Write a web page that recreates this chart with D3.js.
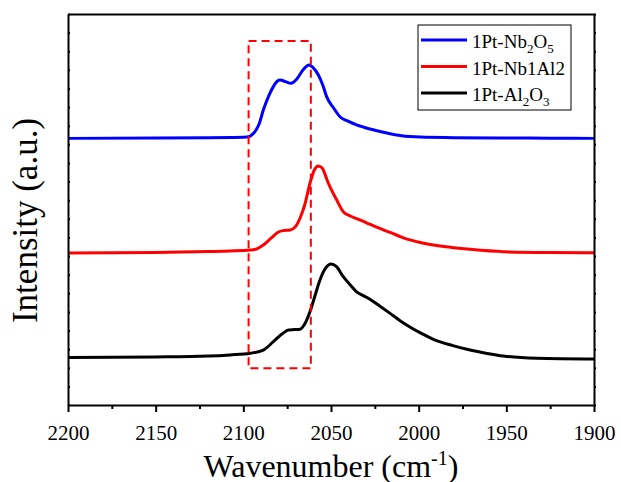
<!DOCTYPE html>
<html lang="en">
<head>
  <meta charset="UTF-8" />
  <title>IR spectra</title>
  <script src="https://d3js.org/d3.v7.min.js"></script>
  <style>
    body { margin: 0; padding: 0; background: #fff; }
    svg text { font-family: 'Liberation Serif', 'Times New Roman', serif; fill: #000; }
  </style>
</head>
<body>
  <div id="chart"></div>
  <script>
    // x axis ticks (wavenumber, cm-1)
    const majorTicks = [2200, 2150, 2100, 2050, 2000, 1950, 1900];
    const minorTicks = [2175, 2125, 2075, 2025, 1975, 1925];

    // 1Pt-Nb2O5 (blue)
    const nbWave = [2200, 2150, 2120, 2107, 2100, 2098, 2094, 2091, 2088.6, 2085.5, 2082.9, 2080.5, 2079, 2076, 2072.8, 2069.5, 2066, 2063.5, 2062.5, 2060.5, 2057.2, 2054.5, 2052.5, 2048.5, 2044.9, 2040, 2035.4, 2027.8, 2022, 2016.3, 2010.6, 2005, 1999, 1980, 1950, 1925, 1900];
    const nbInt  = [1.432, 1.434, 1.436, 1.437, 1.438, 1.439, 1.461, 1.509, 1.584, 1.660, 1.710, 1.740, 1.745, 1.737, 1.728, 1.751, 1.799, 1.823, 1.826, 1.815, 1.772, 1.713, 1.656, 1.595, 1.548, 1.523, 1.504, 1.482, 1.469, 1.457, 1.448, 1.442, 1.439, 1.436, 1.434, 1.433, 1.432];

    // 1Pt-Nb1Al2 (red)
    const mixWave = [2200, 2150, 2120, 2107.6, 2096, 2092, 2088.6, 2084, 2080, 2077, 2073.4, 2070, 2067.7, 2065, 2062, 2059.5, 2057.2, 2055, 2053.5, 2051.5, 2047, 2043, 2039, 2035.4, 2030, 2024, 2016.3, 2008.7, 1999, 1989.7, 1980, 1970.7, 1951.7, 1925, 1900];
    const mixInt  = [0.816, 0.819, 0.824, 0.827, 0.832, 0.840, 0.859, 0.897, 0.929, 0.937, 0.940, 0.961, 1.003, 1.074, 1.191, 1.262, 1.284, 1.273, 1.241, 1.191, 1.106, 1.038, 1.015, 1.001, 0.980, 0.955, 0.927, 0.898, 0.873, 0.857, 0.845, 0.836, 0.823, 0.819, 0.818];

    // 1Pt-Al2O3 (black)
    const alWave = [2200, 2150, 2120, 2107.6, 2096, 2088.6, 2082.9, 2078, 2074.3, 2071, 2067.7, 2065, 2062, 2059, 2056.3, 2053, 2050, 2047, 2043, 2039, 2035.4, 2031, 2027.8, 2022, 2016.3, 2010.6, 2005, 1999, 1991.6, 1981, 1970.7, 1961, 1951.7, 1932.7, 1900];
    const alInt  = [0.255, 0.258, 0.263, 0.269, 0.278, 0.295, 0.340, 0.381, 0.403, 0.405, 0.407, 0.435, 0.501, 0.591, 0.671, 0.736, 0.757, 0.744, 0.689, 0.644, 0.608, 0.585, 0.568, 0.530, 0.492, 0.453, 0.419, 0.387, 0.353, 0.320, 0.295, 0.277, 0.263, 0.251, 0.247];

    // highlighted region (dashed box)
    const boxWave = [2097, 2061.5];
    const boxInt = [0.197, 1.955];

    const series = [
      { name: ["1Pt-Nb", "2", "O", "5"], color: "#0000ff", wave: nbWave, val: nbInt },
      { name: ["1Pt-Nb1Al2"], color: "#ff0000", wave: mixWave, val: mixInt },
      { name: ["1Pt-Al", "2", "O", "3"], color: "#000000", wave: alWave, val: alInt }
    ];

    const width = 621, height = 482;
    const margin = { top: 14, right: 27, bottom: 77, left: 68 };
    const serif = "'Liberation Serif', 'Times New Roman', serif";

    const svg = d3.select("#chart").append("svg")
      .attr("width", width)
      .attr("height", height);

    const x = d3.scaleLinear().domain([2200, 1900]).range([margin.left, width - margin.right]);
    const y = d3.scaleLinear().domain([0, 2.1]).range([height - margin.bottom, margin.top]);
    const yTicks = d3.range(0, 22).map(i => i / 10);

    // curves
    const line = d3.line()
      .x(d => x(d[0]))
      .y(d => y(d[1]))
      .curve(d3.curveMonotoneX);

    series.forEach(s => {
      svg.append("path")
        .datum(s.wave.map((w, i) => [w, s.val[i]]))
        .attr("fill", "none")
        .attr("stroke", s.color)
        .attr("stroke-width", 3)
        .attr("stroke-linejoin", "round")
        .attr("d", line);
    });

    // dashed box
    svg.append("rect")
      .attr("x", x(boxWave[0]))
      .attr("y", y(boxInt[1]))
      .attr("width", x(boxWave[1]) - x(boxWave[0]))
      .attr("height", y(boxInt[0]) - y(boxInt[1]))
      .attr("fill", "none")
      .attr("stroke", "#ff0000")
      .attr("stroke-width", 2)
      .attr("stroke-dasharray", "8,5");

    // axes
    const bottom = svg.append("g")
      .attr("transform", `translate(0,${y(0)})`)
      .call(d3.axisBottom(x).tickValues(majorTicks).tickSize(7).tickSizeOuter(0)
        .tickPadding(13).tickFormat(d3.format("d")));
    bottom.attr("font-family", serif);
    bottom.selectAll("text").style("font-size", "21px").style("font-family", serif);

    svg.append("g")
      .attr("transform", `translate(0,${y(0)})`)
      .call(d3.axisBottom(x).tickValues(minorTicks).tickSize(4).tickSizeOuter(0).tickFormat(""))
      .select(".domain").remove();

    svg.append("g")
      .attr("transform", `translate(0,${margin.top})`)
      .call(d3.axisTop(x).tickValues([]).tickSizeOuter(0));

    svg.append("g")
      .attr("transform", `translate(${margin.left},0)`)
      .call(d3.axisRight(y).tickValues(yTicks).tickSize(2).tickSizeOuter(0).tickFormat(""));

    svg.append("g")
      .attr("transform", `translate(${width - margin.right},0)`)
      .call(d3.axisRight(y).tickValues(yTicks).tickSize(2).tickSizeOuter(0).tickFormat(""));

    svg.selectAll(".domain").attr("stroke-width", 2);
    svg.selectAll(".tick line").attr("stroke-width", 2);

    // axis titles
    const xt = svg.append("text")
      .attr("x", (x.range()[0] + x.range()[1]) / 2)
      .attr("y", 477)
      .attr("text-anchor", "middle")
      .style("font-size", "32px");
    xt.append("tspan").text("Wavenumber (cm");
    xt.append("tspan").attr("dy", -12).style("font-size", "20px").text("-1");
    xt.append("tspan").attr("dy", 12).text(")");

    svg.append("text")
      .attr("transform", `translate(37,${(y.range()[0] + y.range()[1]) / 2 + 11}) rotate(-90)`)
      .attr("text-anchor", "middle")
      .style("font-size", "35px")
      .text("Intensity (a.u.)");

    // legend
    const lg = svg.append("g");
    lg.append("rect")
      .attr("x", 418).attr("y", 25)
      .attr("width", 153).attr("height", 85)
      .attr("fill", "#fff")
      .attr("stroke", "#000")
      .attr("stroke-width", 1);

    series.forEach((s, i) => {
      const ly = 40 + i * 26.5;
      lg.append("line")
        .attr("x1", 421).attr("x2", 467)
        .attr("y1", ly).attr("y2", ly)
        .attr("stroke", s.color)
        .attr("stroke-width", 3);
      const t = lg.append("text")
        .attr("x", 472)
        .attr("y", ly + 8)
        .style("font-size", "19px");
      s.name.forEach((part, j) => {
        const sub = j % 2 === 1;
        const ts = t.append("tspan").text(part);
        if (sub) ts.attr("dy", 5).style("font-size", "13px");
        else if (j > 0) ts.attr("dy", -5);
      });
    });
  </script>
</body>
</html>
